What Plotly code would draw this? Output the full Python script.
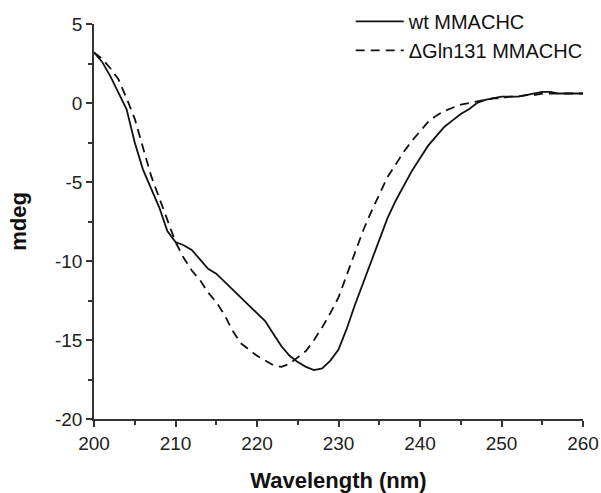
import plotly.graph_objects as go

wavelength = list(range(200, 261))

wt_mdeg = [3.2, 2.6, 1.7, 0.6, -0.4, -2.5, -4.2, -5.4, -6.6, -8.1,
           -8.8, -9.0, -9.3, -9.9, -10.5, -10.8, -11.3, -11.8, -12.3, -12.8,
           -13.3, -13.8, -14.6, -15.4, -16.0, -16.4, -16.7, -16.9, -16.8, -16.3,
           -15.6, -14.3, -12.8, -11.4, -10.0, -8.6, -7.3, -6.2, -5.2, -4.3,
           -3.5, -2.7, -2.1, -1.5, -1.1, -0.7, -0.4, 0.0, 0.2, 0.3,
           0.4, 0.4, 0.4, 0.5, 0.6, 0.7, 0.7, 0.6, 0.6, 0.6, 0.6]

dgln_mdeg = [3.2, 2.8, 2.2, 1.5, 0.3, -1.0, -2.8, -4.6, -6.0, -7.4,
             -8.8, -9.8, -10.6, -11.2, -12.0, -12.6, -13.4, -14.4, -15.2, -15.6,
             -16.0, -16.3, -16.6, -16.7, -16.5, -16.1, -15.7, -15.0, -14.2, -13.3,
             -12.3, -10.9, -9.5, -8.1, -6.9, -5.8, -4.7, -3.9, -3.1, -2.4,
             -1.8, -1.2, -0.8, -0.5, -0.3, -0.1, 0.0, 0.1, 0.2, 0.3,
             0.3, 0.4, 0.4, 0.5, 0.5, 0.6, 0.6, 0.6, 0.6, 0.6, 0.6]

series_names = ["wt MMACHC", "\u0394Gln131 MMACHC"]
x_ticks = [200, 210, 220, 230, 240, 250, 260]
y_ticks = [5, 0, -5, -10, -15, -20]

FONT = "Arial, Liberation Sans, sans-serif"
AX = "#333333"

fig = go.Figure()
fig.add_trace(go.Scatter(x=wavelength, y=wt_mdeg, mode="lines", name=series_names[0],
                         line=dict(color="#111111", width=1.8, dash="solid")))
fig.add_trace(go.Scatter(x=wavelength, y=dgln_mdeg, mode="lines", name=series_names[1],
                         line=dict(color="#111111", width=1.8, dash="9px,6px")))

axis_common = dict(showgrid=False, zeroline=False, showline=True, linecolor=AX, linewidth=1.5,
                   ticks="outside", ticklen=6, tickwidth=1.5, tickcolor=AX,
                   automargin=False,
                   tickfont=dict(family=FONT, size=19, color="#222222"),
                   minor=dict(ticks="outside", ticklen=4, tickwidth=1.5, tickcolor=AX))

fig.update_xaxes(range=[200, 260], tickvals=x_ticks, ticktext=[str(v) for v in x_ticks],
                 minor_dtick=5,
                 title=dict(text="<b>Wavelength (nm)</b>", font=dict(family=FONT, size=22, color="#111111"),
                            standoff=24),
                 **axis_common)
fig.update_yaxes(range=[-20, 5], tickvals=y_ticks, ticktext=[str(v) for v in y_ticks],
                 minor_dtick=2.5,
                 title=dict(text="<b>mdeg</b>", font=dict(family=FONT, size=22, color="#111111"),
                            standoff=22),
                 **axis_common)

fig.update_layout(
    width=601, height=493,
    margin=dict(l=94, r=18, t=24, b=74, autoexpand=False),
    paper_bgcolor="white", plot_bgcolor="white",
    showlegend=True,
    legend=dict(x=0.525, y=1.056, xanchor="left", yanchor="top",
                bgcolor="rgba(0,0,0,0)", borderwidth=0,
                font=dict(family=FONT, size=20, color="#111111"),
                itemwidth=48, tracegroupgap=0),
)

fig.write_html("out.html", config={"displayModeBar": False},
               post_script="document.body.style.margin='0';document.body.style.overflow='hidden';")
